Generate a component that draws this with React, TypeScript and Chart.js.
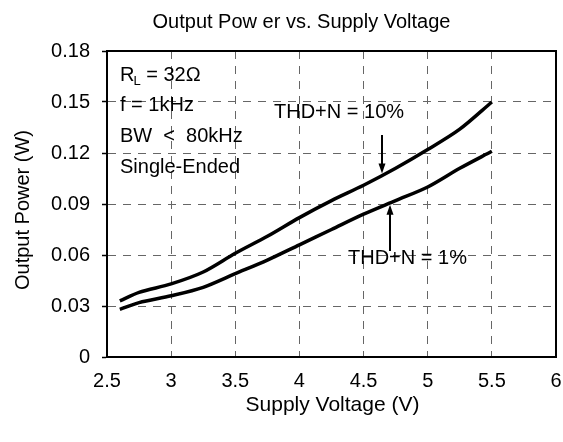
import React, { useEffect, useRef } from "react";
import { Chart, registerables } from "chart.js";

Chart.register(...registerables);

// ---- data ----
const voltage = [2.6, 2.75, 3, 3.25, 3.5, 3.75, 4, 4.25, 4.5, 4.75, 5, 5.25, 5.5];
const thd10 = [0.033, 0.038, 0.043, 0.05, 0.061, 0.071, 0.082, 0.092, 0.101, 0.111, 0.122, 0.134, 0.15];
const thd1 = [0.028, 0.032, 0.036, 0.041, 0.049, 0.057, 0.066, 0.075, 0.084, 0.092, 0.1, 0.111, 0.121];
const xTicks = [2.5, 3, 3.5, 4, 4.5, 5, 5.5, 6];
const yTicks = [0, 0.03, 0.06, 0.09, 0.12, 0.15, 0.18];

const chartTitle = "Output Pow er vs. Supply Voltage";
const xTitle = "Supply Voltage (V)";
const yTitle = "Output Power (W)";
const conditionLines = ["f = 1kHz", "BW  <  80kHz", "Single-Ended"];
const label10 = "THD+N = 10%";
const label1 = "THD+N = 1%";

const FONT = "'Liberation Sans', Arial, sans-serif";

function arrow(ctx: CanvasRenderingContext2D, x: number, y0: number, y1: number) {
  const d = Math.sign(y1 - y0);
  ctx.beginPath();
  ctx.lineWidth = 2;
  ctx.moveTo(x, y0);
  ctx.lineTo(x, y1 - d * 6);
  ctx.stroke();
  ctx.beginPath();
  ctx.moveTo(x, y1);
  ctx.lineTo(x - 3.5, y1 - d * 10);
  ctx.lineTo(x + 3.5, y1 - d * 10);
  ctx.closePath();
  ctx.fill();
}

const annotPlugin = {
  id: "annot",
  afterDraw(chart: any) {
    const { ctx, chartArea: a, scales } = chart;
    const ys = scales.y;
    ctx.save();
    // frame
    ctx.strokeStyle = "#000";
    ctx.lineWidth = 2;
    ctx.strokeRect(a.left, a.top, a.right - a.left, a.bottom - a.top);

    ctx.fillStyle = "#000";
    ctx.textBaseline = "middle";

    // title
    ctx.font = `20px ${FONT}`;
    ctx.textAlign = "center";
    ctx.fillText(chartTitle, 301.5, 22);

    // x title
    ctx.font = `21px ${FONT}`;
    ctx.fillText(xTitle, (a.left + a.right) / 2 + 1, 405);

    // y title
    ctx.font = `20px ${FONT}`;
    ctx.save();
    ctx.translate(23, 210);
    ctx.rotate(-Math.PI / 2);
    ctx.fillText(yTitle, 0, 0);
    ctx.restore();

    // conditions
    ctx.textAlign = "left";
    const tx = 120;
    ctx.font = `20px ${FONT}`;
    ctx.fillText("R", tx, 75);
    const rw = ctx.measureText("R").width;
    ctx.font = `13px ${FONT}`;
    ctx.fillText("L", tx + rw - 1, 81);
    const lw = ctx.measureText("L").width;
    ctx.font = `20px ${FONT}`;
    ctx.fillText(" = 32\u03A9", tx + rw - 1 + lw, 75);
    const ys0 = [105, 136, 167];
    conditionLines.forEach((t, i) => ctx.fillText(t, tx, ys0[i]));

    // curve labels
    ctx.fillText(label10, 274, 112);
    ctx.fillText(label1, 348, 258);

    // arrows
    arrow(ctx, 382, 135, ys.getPixelForValue(0.108));
    arrow(ctx, 390, 251, ys.getPixelForValue(0.0895));
    ctx.restore();
  },
};

export default function App() {
  const ref = useRef<HTMLCanvasElement | null>(null);
  useEffect(() => {
    if (!ref.current) return;
    const chart = new Chart(ref.current, {
      type: "line",
      data: {
        datasets: [
          {
            label: label10,
            data: voltage.map((v, i) => ({ x: v, y: thd10[i] })),
            borderColor: "#000",
            borderWidth: 3.5,
            pointRadius: 0,
            tension: 0.3,
            fill: false,
          },
          {
            label: label1,
            data: voltage.map((v, i) => ({ x: v, y: thd1[i] })),
            borderColor: "#000",
            borderWidth: 3.5,
            pointRadius: 0,
            tension: 0.3,
            fill: false,
          },
        ],
      },
      options: {
        animation: false,
        responsive: true,
        maintainAspectRatio: false,
        events: [],
        layout: { padding: { top: 51, right: 7, left: 0, bottom: 0 } },
        plugins: {
          legend: { display: false },
          tooltip: { enabled: false },
          title: { display: false },
        },
        scales: {
          x: {
            type: "linear",
            min: 2.5,
            max: 6,
            afterBuildTicks: (s: any) => {
              s.ticks = xTicks.map((v) => ({ value: v }));
            },
            afterFit: (s: any) => {
              s.height = 85;
            },
            ticks: {
              color: "#000",
              font: { family: FONT, size: 20 },
              padding: 0,
              maxRotation: 0,
              autoSkip: false,
              callback: (v: any) => String(v),
            },
            grid: {
              color: "#666666",
              lineWidth: 1,
              drawTicks: true,
              tickLength: 12,
              tickColor: "rgba(0,0,0,0)",
            },
            border: { display: true, color: "#000", width: 2, dash: [8, 7] },
          },
          y: {
            type: "linear",
            min: 0,
            max: 0.18,
            afterBuildTicks: (s: any) => {
              s.ticks = yTicks.map((v) => ({ value: v }));
            },
            afterFit: (s: any) => {
              s.width = 107;
            },
            ticks: {
              color: "#000",
              font: { family: FONT, size: 20 },
              padding: 12,
              autoSkip: false,
              callback: (v: any) => (v === 0 ? "0" : Number(v).toFixed(2)),
            },
            grid: {
              color: "#666666",
              lineWidth: 1,
              drawTicks: true,
              tickLength: 5,
              tickColor: "#000",
              tickWidth: 1.5,
            },
            border: { display: true, color: "#000", width: 2, dash: [8, 7] },
          },
        },
      },
      plugins: [annotPlugin],
    } as any);
    return () => chart.destroy();
  }, []);
  return (
    <div style={{ position: "fixed", left: 0, top: 0, width: 563, height: 442 }}>
      <canvas ref={ref} />
    </div>
  );
}
